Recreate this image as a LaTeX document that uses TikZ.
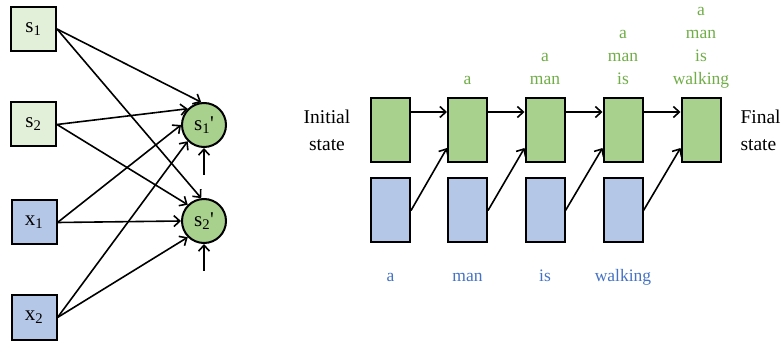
\documentclass[tikz,border=0pt]{standalone}
\usepackage{fontspec}
\setmainfont{Liberation Serif}[Ligatures=TeXOff]
\usetikzlibrary{arrows.meta,positioning}
\definecolor{paleGreen}{HTML}{E2F0D9}
\definecolor{cellGreen}{HTML}{A9D18E}
\definecolor{cellBlue}{HTML}{B4C7E7}
\definecolor{wordGreen}{HTML}{70AD47}
\definecolor{wordBlue}{HTML}{4472C4}

\begin{document}
\begin{tikzpicture}[x=1pt, y=-1pt,
  inbox/.style={draw, line width=2pt, minimum width=45pt, minimum height=44pt,
                inner sep=0pt, font=\fontsize{21}{24}\selectfont},
  cell/.style={draw, circle, fill=cellGreen, line width=2pt, minimum size=44pt,
               inner sep=0pt, font=\fontsize{21}{24}\selectfont},
  hbox/.style={draw, fill=cellGreen, line width=2pt, minimum width=39pt,
               minimum height=64pt, inner sep=0pt},
  wbox/.style={hbox, fill=cellBlue},
  gword/.style={text=wordGreen, align=center, anchor=south, inner sep=0pt,
                text depth=4.5pt, font=\fontsize{17.5}{23}\selectfont},
  bword/.style={text=wordBlue, anchor=base, inner sep=0pt,
                font=\fontsize{17.5}{23}\selectfont},
  side/.style={font=\fontsize{19.5}{27}\selectfont},
  arr/.style={-{Straight Barb[length=6pt,width=11pt]}, line width=1.6pt}]

  \useasboundingbox (0,0) rectangle (781,344);

  % single update step
  \node[inbox, fill=paleGreen] (s1) at (33.5,29) {s\textsubscript{1}};
  \node[inbox, fill=paleGreen] (s2) at (33.5,124.5) {s\textsubscript{2}};
  \node[inbox, fill=cellBlue] (x1) at (34,222.5) {x\textsubscript{1}};
  \node[inbox, fill=cellBlue] (x2) at (34,317.5) {x\textsubscript{2}};
  \node[cell] (s1p) at (204,125) {s\textsubscript{1}'};
  \node[cell] (s2p) at (204,221) {s\textsubscript{2}'};
  \coordinate (b1) at (204,175);
  \coordinate (b2) at (204,271);

  \draw[arr] (s1.east) -- (s1p.97);
  \draw[arr] (s1.east) -- (s2p.97);
  \draw[arr] (s2.east) -- (s1p.135);
  \draw[arr] (s2.east) -- (s2p.135);
  \draw[arr] (x1.east) -- (s1p.180);
  \draw[arr] (x1.east) -- (s2p.180);
  \draw[arr] (x2.east) -- (s1p.225);
  \draw[arr] (x2.east) -- (s2p.225);
  \draw[arr] (b1) -- (s1p);
  \draw[arr] (b2) -- (s2p);

  % unrolled over the sentence
  \node[hbox] (h1) at (390.5,130) {};
  \node[hbox] (h2) at (467.5,130) {};
  \node[hbox] (h3) at (545,130) {};
  \node[hbox] (h4) at (623,130) {};
  \node[hbox] (h5) at (701,130) {};
  \node[wbox] (w1) at (390.5,210.5) {};
  \node[wbox] (w2) at (467.5,210.5) {};
  \node[wbox] (w3) at (545,210.5) {};
  \node[wbox] (w4) at (623,210.5) {};

  \node[side, align=center] (init) at (327,130) {Initial\\state};
  \node[side, align=left, anchor=west] (final) at (737,130) {Final\\state};

  \node[gword, above=7.5pt of h2] (g2) {a};
  \node[gword, above=7.5pt of h3] (g3) {a\\man};
  \node[gword, above=7.5pt of h4] (g4) {a\\man\\is};
  \node[gword, above=7.5pt of h5] (g5) {a\\man\\is\\walking};

  \node[bword] (t1) at (390.5,282) {a};
  \node[bword] (t2) at (467.5,282) {man};
  \node[bword] (t3) at (545,282) {is};
  \node[bword] (t4) at (623,282) {walking};

  \draw[arr] ([yshift=18pt]h1.east) -- ([yshift=18pt]h2.west);
  \draw[arr] ([yshift=18pt]h2.east) -- ([yshift=18pt]h3.west);
  \draw[arr] ([yshift=18pt]h3.east) -- ([yshift=18pt]h4.west);
  \draw[arr] ([yshift=18pt]h4.east) -- ([yshift=18pt]h5.west);
  \draw[arr] (w1.east) -- ([yshift=-18pt]h2.west);
  \draw[arr] (w2.east) -- ([yshift=-18pt]h3.west);
  \draw[arr] (w3.east) -- ([yshift=-18pt]h4.west);
  \draw[arr] (w4.east) -- ([yshift=-18pt]h5.west);
\end{tikzpicture}
\end{document}
